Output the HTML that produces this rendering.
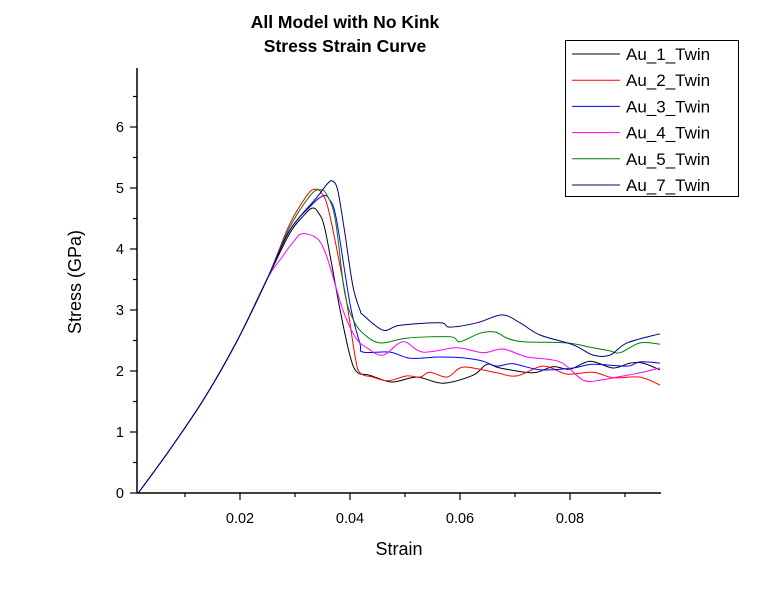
<!DOCTYPE html>
<html><head><meta charset="utf-8"><style>
body{margin:0;background:#fff;font-family:"Liberation Sans",sans-serif}
svg text{font-family:"Liberation Sans",sans-serif}
</style></head><body>
<svg id="chart" width="768" height="593" viewBox="0 0 768 593" xmlns="http://www.w3.org/2000/svg">
<rect width="768" height="593" fill="#fff"/>
<text x="345" y="28" text-anchor="middle" font-size="17.5" font-weight="bold">All Model with No Kink</text>
<text x="345" y="52" text-anchor="middle" font-size="17.5" font-weight="bold">Stress Strain Curve</text>
<text transform="translate(81,282) rotate(-90)" text-anchor="middle" font-size="18">Stress (GPa)</text>
<text x="399" y="555" text-anchor="middle" font-size="18">Strain</text>
<g id="plot"></g>
<g id="axes"></g>
<g id="legend"></g>
</svg>
<script>
const xTicks=[0.02,0.04,0.06,0.08];
const xMinorTicks=[0.01,0.03,0.05,0.07,0.09];
const yTicks=[0,1,2,3,4,5,6];
const yMinorTicks=[0.5,1.5,2.5,3.5,4.5,5.5,6.5];
const seriesNames=["Au_1_Twin","Au_2_Twin","Au_3_Twin","Au_4_Twin","Au_5_Twin","Au_7_Twin"];
const seriesColors=["#000000","#ff0000","#0000ff","#ff00ff","#008000","#000080"];
const load=[[0.0015,0],[0.0073,0.72],[0.0135,1.55],[0.0195,2.5],[0.0249,3.5]];
const s1x=[0.0290,0.0316,0.0331,0.0342,0.0355,0.0382,0.0400,0.0413,0.04364,0.04764,0.05218,0.05691,0.06236,0.06491,0.06727,0.07327,0.07691,0.08,0.08364,0.08782,0.09091,0.09327,0.09636];
const s1y=[4.25,4.55,4.67,4.6,4.3,3.0,2.25,1.98,1.93,1.82,1.9,1.8,1.93,2.11,2.05,1.97,2.07,2.03,2.16,2.05,2.13,2.13,2.02];
const s2x=[0.0290,0.0322,0.0336,0.0348,0.0362,0.0391,0.04091,0.04182,0.04418,0.04691,0.05036,0.05273,0.05455,0.05764,0.06,0.06236,0.06673,0.07036,0.07509,0.07945,0.08418,0.08782,0.09273,0.09636];
const s2y=[4.4,4.88,4.98,4.92,4.6,3.28,2.25,1.97,1.9,1.84,1.92,1.9,1.98,1.9,2.05,2.05,1.97,1.92,2.08,1.95,1.98,1.89,1.9,1.77];
const s3x=[0.0290,0.0330,0.0351,0.0362,0.0375,0.0400,0.0418,0.04236,0.04727,0.05091,0.05636,0.06127,0.06418,0.06673,0.06964,0.07455,0.08055,0.08418,0.09036,0.09273,0.09636];
const s3y=[4.3,4.72,4.87,4.82,4.5,3.1,2.45,2.31,2.31,2.21,2.23,2.21,2.16,2.08,2.12,2.02,2.05,2.11,2.08,2.15,2.13];
const s4x=[0.0275,0.0300,0.0313,0.0336,0.0350,0.0364,0.0387,0.0410,0.04309,0.046,0.04964,0.05327,0.05945,0.06418,0.06782,0.07218,0.07818,0.08236,0.08545,0.08855,0.09273,0.09636];
const s4y=[3.85,4.15,4.25,4.2,4.05,3.7,3.0,2.55,2.38,2.26,2.48,2.31,2.38,2.3,2.36,2.23,2.15,1.85,1.85,1.9,1.97,2.05];
const s5x=[0.0290,0.0328,0.0345,0.0357,0.0373,0.0390,0.04055,0.04236,0.04545,0.05036,0.05818,0.06,0.06364,0.06636,0.06855,0.07145,0.07945,0.08418,0.08727,0.0891,0.09273,0.09636];
const s5y=[4.35,4.88,4.97,4.9,4.5,3.3,2.85,2.62,2.46,2.54,2.56,2.48,2.62,2.64,2.54,2.48,2.46,2.38,2.33,2.3,2.46,2.44];
const s6x=[0.0290,0.0340,0.0360,0.0369,0.0378,0.0390,0.0405,0.04182,0.04236,0.046,0.04909,0.05636,0.05818,0.06309,0.06764,0.07091,0.07455,0.08055,0.08418,0.08727,0.09036,0.09636];
const s6y=[4.3,4.85,5.08,5.11,4.95,4.3,3.4,3.0,2.92,2.67,2.75,2.79,2.72,2.79,2.92,2.79,2.59,2.43,2.26,2.26,2.46,2.61];
const seriesX=[s1x,s2x,s3x,s4x,s5x,s6x];
const seriesY=[s1y,s2y,s3y,s4y,s5y,s6y];

const X0=137,X1=661,Y0=493,Y1=68;
function xs(v){return 240+(v-0.02)*5500;}
function ys(v){return 493-v*61;}
const NS="http://www.w3.org/2000/svg";
function mk(tag,attrs,parent){const e=document.createElementNS(NS,tag);for(const k in attrs)e.setAttribute(k,attrs[k]);parent.appendChild(e);return e;}
const plot=document.getElementById('plot'),axes=document.getElementById('axes'),legend=document.getElementById('legend');
function smooth(p){
  let d='M'+p[0][0].toFixed(1)+','+p[0][1].toFixed(1);
  for(let i=0;i<p.length-1;i++){
    const a=p[Math.max(i-1,0)],b=p[i],c=p[i+1],e=p[Math.min(i+2,p.length-1)];
    const c1=[b[0]+(c[0]-a[0])/6,b[1]+(c[1]-a[1])/6],c2=[c[0]-(e[0]-b[0])/6,c[1]-(e[1]-b[1])/6];
    d+=' C'+c1[0].toFixed(1)+','+c1[1].toFixed(1)+' '+c2[0].toFixed(1)+','+c2[1].toFixed(1)+' '+c[0].toFixed(1)+','+c[1].toFixed(1);
  }
  return d;
}
for(let s=0;s<seriesX.length;s++){
  const pts=load.map(p=>[xs(p[0]),ys(p[1])]);
  for(let i=0;i<seriesX[s].length;i++)pts.push([xs(seriesX[s][i]),ys(seriesY[s][i])]);
  const p=mk('path',{d:smooth(pts),fill:'none',stroke:seriesColors[s],'stroke-width':1,'stroke-linejoin':'round'},plot);
  
  
}

const xa=mk('line',{x1:X0,y1:Y0,x2:X1,y2:Y0,stroke:'#000','stroke-width':1.5},axes);


const ya=mk('line',{x1:X0,y1:Y0,x2:X0,y2:Y1,stroke:'#000','stroke-width':1.5},axes);


xTicks.forEach(v=>{
  const x=xs(v);
  mk('line',{x1:x,y1:Y0,x2:x,y2:Y0+7,stroke:'#000','stroke-width':1.2},axes);
  const t=mk('text',{x:x,y:Y0+30,'text-anchor':'middle','font-size':14.5},axes);
  t.textContent=v.toFixed(2);
  
  
});
xMinorTicks.forEach(v=>{const x=xs(v);mk('line',{x1:x,y1:Y0,x2:x,y2:Y0+4,stroke:'#000','stroke-width':1.2},axes);});
yTicks.forEach(v=>{
  const y=ys(v);
  mk('line',{x1:X0-7,y1:y,x2:X0,y2:y,stroke:'#000','stroke-width':1.2},axes);
  const t=mk('text',{x:X0-13,y:y+5,'text-anchor':'end','font-size':14.5},axes);
  t.textContent=String(v);
  
  
});
yMinorTicks.forEach(v=>{const y=ys(v);mk('line',{x1:X0-4,y1:y,x2:X0,y2:y,stroke:'#000','stroke-width':1.2},axes);});

const lb=mk('rect',{x:565.5,y:40.5,width:173,height:156,fill:'#fff',stroke:'#000','stroke-width':1},legend);


seriesNames.forEach((n,i)=>{
  const y=54+i*26.2;
  const g=mk('g',{},legend);
  
  
  mk('line',{x1:572,y1:y,x2:620,y2:y,stroke:seriesColors[i],'stroke-width':1},g);
  const t=mk('text',{x:626,y:y+6,'font-size':17},g);
  t.textContent=n;
});
</script>
</body></html>
